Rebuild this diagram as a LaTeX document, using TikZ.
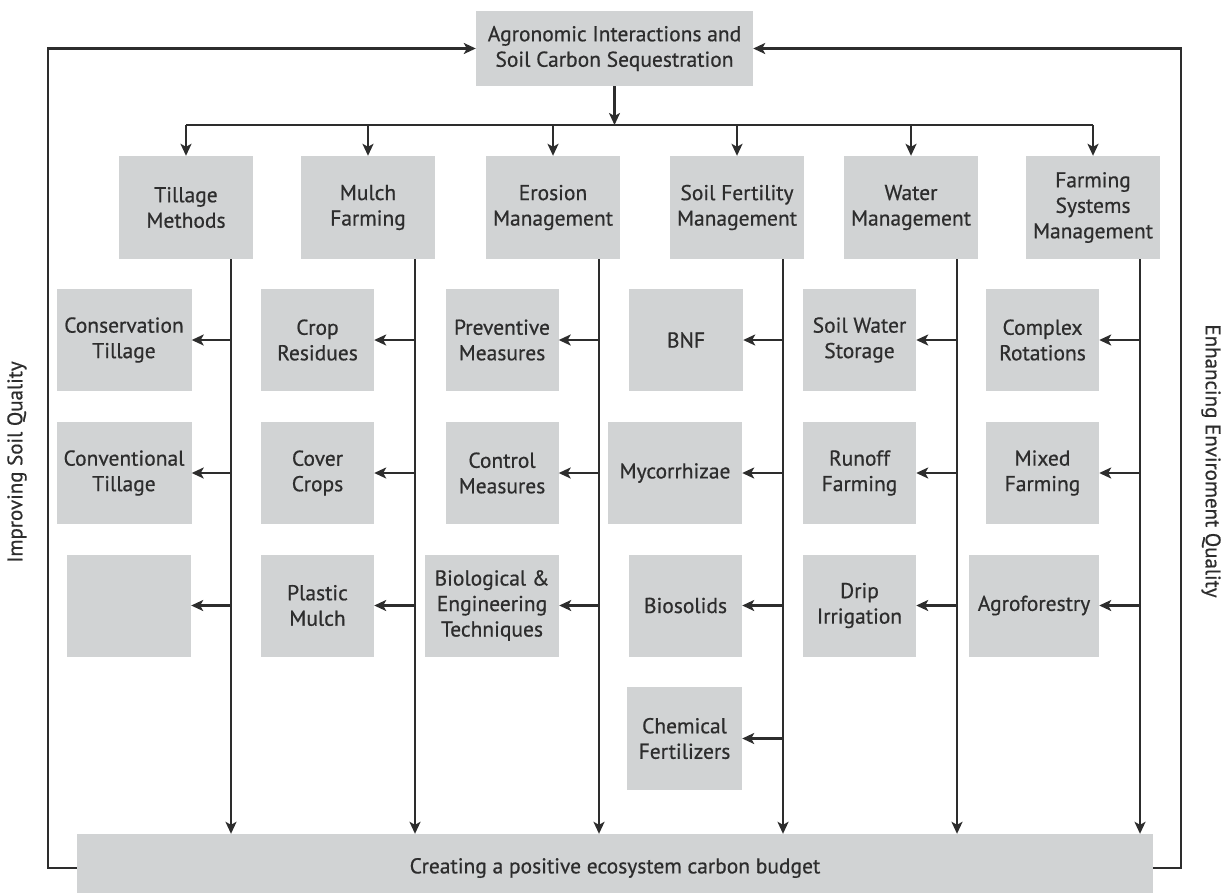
\documentclass[tikz,border=0pt]{standalone}
\usepackage{fontspec}
\setmainfont{PT Sans}[FakeBold=0.6]
\usetikzlibrary{arrows.meta}
\definecolor{boxgray}{RGB}{209,211,212}
\definecolor{ink}{RGB}{45,45,45}
\begin{document}
\begin{tikzpicture}[x=1pt,y=-1pt,
  box/.style={fill=boxgray, draw=none, text=ink, align=center, inner sep=0pt,
    font=\fontsize{21.5}{25.5}\selectfont},
  conn/.style={draw=ink, line width=2.1pt},
  arr/.style={conn, -{Stealth[length=12pt,width=11pt,inset=3pt]}},
  side/.style={text=ink, font=\fontsize{21}{25}\selectfont}]
\useasboundingbox (0,0) rectangle (1230,892);

% top and bottom
\node[box, minimum width=277pt, minimum height=75pt] (top) at (614.5,48.5) {Agronomic Interactions and\\Soil Carbon Sequestration};
\node[box, minimum width=1076pt, minimum height=68pt] (bot) at (615,868) {Creating a positive ecosystem carbon budget};

% categories
\node[box, minimum width=134pt, minimum height=103pt] (till)  at (186,207.5)  {Tillage\\Methods};
\node[box, minimum width=134pt, minimum height=103pt] (mulch) at (368,207.5)  {Mulch\\Farming};
\node[box, minimum width=134pt, minimum height=103pt] (eros)  at (553,207.5)  {Erosion\\Management};
\node[box, minimum width=134pt, minimum height=103pt] (fert)  at (737,207.5)  {Soil Fertility\\Management};
\node[box, minimum width=134pt, minimum height=103pt] (water) at (911,207.5)  {Water\\Management};
\node[box, minimum width=134pt, minimum height=103pt] (farm)  at (1093,207.5) {Farming\\Systems\\Management};

% column 1
\node[box, minimum width=135pt, minimum height=102pt] (cons) at (124,340)   {Conservation\\Tillage};
\node[box, minimum width=135pt, minimum height=102pt] (conv) at (124,473)   {Conventional\\Tillage};
\node[box, minimum width=124pt, minimum height=102pt] (empt) at (129,605.5) {};
% column 2
\node[box, minimum width=113pt, minimum height=102pt] (crop) at (317.5,340)   {Crop\\Residues};
\node[box, minimum width=113pt, minimum height=102pt] (cov)  at (317.5,473)   {Cover\\Crops};
\node[box, minimum width=113pt, minimum height=102pt] (plas) at (317.5,605.5) {Plastic\\Mulch};
% column 3
\node[box, minimum width=113pt, minimum height=102pt] (prev) at (502,340)   {Preventive\\Measures};
\node[box, minimum width=113pt, minimum height=102pt] (ctrl) at (502,473)   {Control\\Measures};
\node[box, minimum width=134pt, minimum height=102pt] (bio)  at (492,605.5) {Biological \&\\Engineering\\Techniques};
% column 4
\node[box, minimum width=114pt, minimum height=102pt] (bnf)  at (686,340)   {BNF};
\node[box, minimum width=134pt, minimum height=102pt] (myc)  at (675,473)   {Mycorrhizae};
\node[box, minimum width=113pt, minimum height=102pt] (bsol) at (685.5,605.5) {Biosolids};
\node[box, minimum width=115pt, minimum height=103pt] (chem) at (684.5,738.5) {Chemical\\Fertilizers};
% column 5
\node[box, minimum width=113pt, minimum height=102pt] (sws)  at (859.5,340)   {Soil Water\\Storage};
\node[box, minimum width=113pt, minimum height=102pt] (run)  at (859.5,473)   {Runoff\\Farming};
\node[box, minimum width=113pt, minimum height=102pt] (drip) at (859.5,605.5) {Drip\\Irrigation};
% column 6
\node[box, minimum width=113pt, minimum height=102pt] (cplx) at (1042.5,340)   {Complex\\Rotations};
\node[box, minimum width=113pt, minimum height=102pt] (mix)  at (1042.5,473)   {Mixed\\Farming};
\node[box, minimum width=130pt, minimum height=102pt] (agro) at (1034,605.5)   {Agroforestry};

% side labels
\node[side, rotate=90]  (lsq) at (17,462)   {Improving Soil Quality};
\node[side, rotate=-90] (req) at (1211,461) {Enhancing Enviroment Quality};

% coordinates for line positions
\coordinate (hy) at (0,125);
\coordinate (lx) at (48,0);
\coordinate (rx) at (1181,0);
\coordinate (c1) at (231,0);
\coordinate (c2) at (415,0);
\coordinate (c3) at (599,0);
\coordinate (c4) at (783,0);
\coordinate (c5) at (957,0);
\coordinate (c6) at (1140,0);

% top distribution
\draw[arr] (top.south) -- (top.south |- hy);
\draw[conn] (till.north |- hy) -- (farm.north |- hy);
\foreach \n in {till,mulch,eros,fert,water,farm}
  \draw[arr] (\n.north |- hy) -- (\n.north);

% feedback loops
\draw[arr] (bot.west) -| (lx |- top.west) -- (top.west);
\draw[arr] (bot.east) -| (rx |- top.east) -- (top.east);

% vertical trunks
\draw[arr] (c1 |- till.south)  -- (c1 |- bot.north);
\draw[arr] (c2 |- mulch.south) -- (c2 |- bot.north);
\draw[arr] (c3 |- eros.south)  -- (c3 |- bot.north);
\draw[arr] (c4 |- fert.south)  -- (c4 |- bot.north);
\draw[arr] (c5 |- water.south) -- (c5 |- bot.north);
\draw[arr] (c6 |- farm.south)  -- (c6 |- bot.north);

% branches
\foreach \n in {cons,conv,empt} \draw[arr] (c1 |- \n.east) -- (\n.east);
\foreach \n in {crop,cov,plas} \draw[arr] (c2 |- \n.east) -- (\n.east);
\foreach \n in {prev,ctrl,bio} \draw[arr] (c3 |- \n.east) -- (\n.east);
\foreach \n in {bnf,myc,bsol,chem} \draw[arr] (c4 |- \n.east) -- (\n.east);
\foreach \n in {sws,run,drip} \draw[arr] (c5 |- \n.east) -- (\n.east);
\foreach \n in {cplx,mix,agro} \draw[arr] (c6 |- \n.east) -- (\n.east);
\end{tikzpicture}
\end{document}
